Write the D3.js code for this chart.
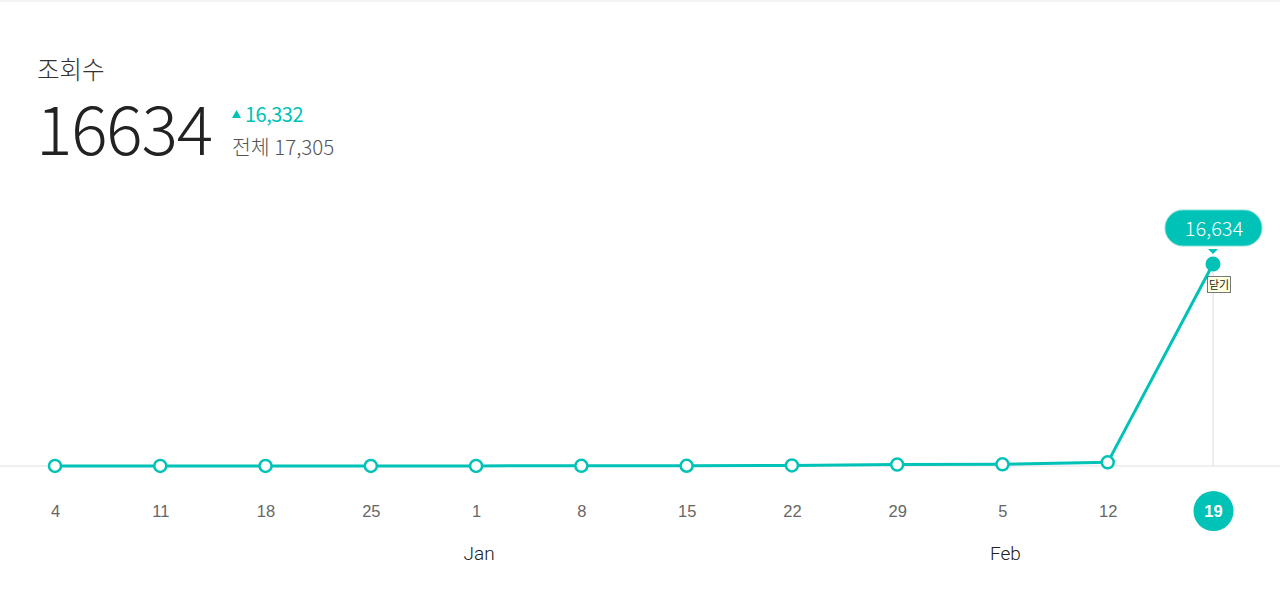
<!DOCTYPE html>
<html><head><meta charset="utf-8">
<script src="https://cdn.jsdelivr.net/npm/d3@7"></script>
<style>
html,body{margin:0;padding:0;background:#fff;overflow:hidden;}
svg{display:block;}
</style></head>
<body>
<svg id="c" width="1280" height="612"></svg>
<script>
const weekLabels = ["4","11","18","25","1","8","15","22","29","5","12","19"];
const weekValues = [5, 6, 8, 7, 10, 12, 20, 45, 115, 141, 302, 16634];
const monthLabels = ["Jan","Feb"];
const monthAt = [4, 9];
const title = "조회수";
const current = 16634;
const delta = 16332;
const total = 17305;

const teal = "#00c2b6";
const svg = d3.select("#c");
svg.append("rect").attr("x",0).attr("y",0).attr("width",1280).attr("height",2).attr("fill","#f3f3f3");

const x = d3.scalePoint().domain(d3.range(weekLabels.length)).range([55,1213]);
const y = d3.scaleLinear().domain([0, d3.max(weekValues)]).range([466,264]);

// header
const kr = "'Noto Sans CJK KR','Noto Sans',sans-serif";
svg.append("text").attr("x",37).attr("y",79).text(title)
  .style("font-family",kr).style("font-size","24.5px").style("font-weight",300).attr("fill","#333");
svg.append("text").attr("x",36).attr("y",155).text(String(current))
  .style("font-family",kr).style("font-size","68px").style("font-weight",300).attr("fill","#222")
  .attr("letter-spacing","-1.2");
svg.append("path").attr("d","M232,118 L236.5,110 L241,118 Z").attr("fill",teal);
svg.append("text").attr("x",245).attr("y",122).text(d3.format(",")(delta))
  .style("font-family",kr).style("font-size","20px").attr("fill",teal).attr("letter-spacing","-0.5");
svg.append("text").attr("x",232).attr("y",155).text("전체 " + d3.format(",")(total))
  .style("font-family",kr).style("font-size","20.5px").style("font-weight",300).attr("fill","#555");

// baseline grid
svg.append("line").attr("x1",0).attr("x2",1280).attr("y1",y(0)).attr("y2",y(0))
  .attr("stroke","#ebebeb").attr("stroke-width",1.5);
const last = weekValues.length-1;
svg.append("line").attr("x1",x(last)).attr("x2",x(last)).attr("y1",y(weekValues[last])).attr("y2",y(0))
  .attr("stroke","#dcdcdc").attr("stroke-width",1);

// line
const line = d3.line().x((d,i)=>x(i)).y(d=>y(d));
svg.append("path").datum(weekValues).attr("d",line).attr("fill","none")
  .attr("stroke",teal).attr("stroke-width",3);

svg.selectAll("circle.pt").data(weekValues.slice(0,last)).enter().append("circle")
  .attr("class","pt").attr("cx",(d,i)=>x(i)).attr("cy",d=>y(d)).attr("r",6)
  .attr("fill","#fff").attr("stroke",teal).attr("stroke-width",2.5);
svg.append("circle").attr("cx",x(last)).attr("cy",y(weekValues[last])).attr("r",7.5).attr("fill",teal);

// tooltip
const tx = x(last), ty = y(weekValues[last]);
svg.append("rect").attr("x",tx-48).attr("y",ty-54).attr("width",97).attr("height",36).attr("rx",18)
  .attr("fill",teal).attr("stroke","#7fdcd6").attr("stroke-width",1);
svg.append("path").attr("d",`M${tx-5},${ty-15} L${tx+5},${ty-15} L${tx},${ty-10} Z`).attr("fill",teal);
svg.append("text").attr("x",tx+1).attr("y",ty-28).attr("text-anchor","middle").text(d3.format(",")(weekValues[last]))
  .style("font-family",kr).style("font-size","20px").style("font-weight",300).attr("fill","#fff");
svg.append("rect").attr("x",tx-5.5).attr("y",ty+12.5).attr("width",23).attr("height",16)
  .attr("fill","#ffffe1").attr("stroke","#777").attr("stroke-width",1);
svg.append("text").attr("x",tx+6).attr("y",ty+25).attr("text-anchor","middle").text("닫기")
  .style("font-family",kr).style("font-size","11px").attr("fill","#222");

// x axis labels
const axisG = svg.append("g").attr("transform","translate(0,"+511+")");
const xAxis = d3.axisBottom(x).tickSize(0).tickPadding(0).tickFormat(i=>weekLabels[i]);
axisG.call(xAxis);
axisG.select(".domain").remove();
axisG.selectAll(".tick").filter(i=>i===last).insert("circle","text").attr("r",20).attr("cy",0).attr("fill",teal);
axisG.selectAll(".tick text").attr("dy","0.35em").attr("y",0)
  .style("font-family","'Liberation Sans',Arial,sans-serif").style("font-size","16.5px")
  .attr("fill",i=>i===last?"#fff":"#666").style("font-weight",i=>i===last?"bold":"normal");

// months
svg.selectAll("text.month").data(monthLabels).enter().append("text").attr("class","month")
  .attr("x",(d,i)=>x(monthAt[i])+3).attr("y",560).attr("text-anchor","middle").text(d=>d)
  .style("font-family","'Roboto','Liberation Sans',sans-serif").style("font-size","19px").style("font-weight",300).attr("fill","#222");
</script>
</body></html>
